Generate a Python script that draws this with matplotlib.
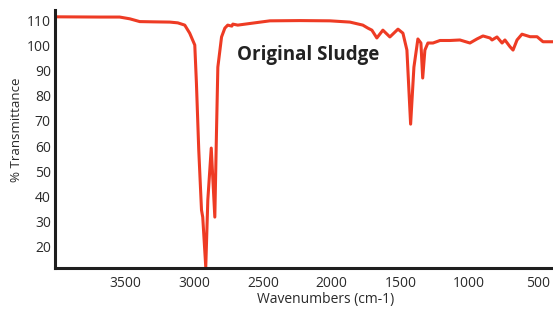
import matplotlib
matplotlib.use("Agg")
import matplotlib.pyplot as plt

plt.rcParams['font.family'] = ['Open Sans', 'DejaVu Sans']

wavenumber = [4017, 3690, 3544, 3470, 3398, 3300, 3179, 3121, 3070, 3034, 2997, 2985,
              2968, 2948, 2939, 2917, 2902, 2877, 2851, 2839, 2829, 2802, 2778, 2757,
              2727, 2720, 2684, 2574, 2450, 2232, 2013, 1867, 1773, 1736, 1707, 1671,
              1627, 1576, 1517, 1481, 1452, 1425, 1401, 1372, 1350, 1337, 1321, 1299,
              1262, 1211, 1138, 1066, 993, 942, 898, 847, 832, 796, 759, 738, 701, 679,
              650, 614, 555, 504, 461, 388]
transmittance = [111.3, 111.2, 111.2, 110.5, 109.4, 109.3, 109.2, 108.9, 108.0, 104.8,
                 100.1, 85.0, 58.4, 34.6, 31.8, 12.0, 38.6, 59.2, 31.8, 65.2, 91.3,
                 103.3, 106.8, 108.0, 107.6, 108.4, 108.0, 108.8, 109.7, 109.8, 109.7,
                 109.2, 108.0, 106.8, 106.0, 102.9, 106.0, 103.3, 106.4, 104.8, 98.1,
                 68.7, 91.3, 102.5, 100.9, 87.0, 98.1, 100.9, 100.9, 101.9, 101.9, 102.1,
                 100.9, 102.5, 103.7, 102.9, 102.1, 103.3, 100.9, 102.1, 99.4, 98.1,
                 102.1, 104.4, 103.4, 103.4, 101.4, 101.4]

xticks = [3500, 3000, 2500, 2000, 1500, 1000, 500]
yticks = [20, 30, 40, 50, 60, 70, 80, 90, 100, 110]

W, H = 553, 314
fig = plt.figure(figsize=(W / 100, H / 100), dpi=100)
ax = fig.add_axes([55 / W, 1 - 268 / H, 1 - 55 / W, (268 - 10) / H])

ax.plot(wavenumber, transmittance, color='#ee3b24', lw=2.2, solid_joinstyle='round')

ax.set_xlim(4015, 388)
ax.set_ylim(11.6, 114)
ax.set_xticks(xticks)
ax.set_yticks(yticks)
ax.tick_params(axis='x', length=0, labelsize=10, colors='#2a2a2a', pad=6)
ax.tick_params(axis='y', length=0, labelsize=10, colors='#2a2a2a', pad=3)
for s in ['top', 'right']:
    ax.spines[s].set_visible(False)
for s in ['left', 'bottom']:
    ax.spines[s].set_linewidth(2.2)
    ax.spines[s].set_color('#1e1e1e')

ax.set_xlabel('Wavenumbers (cm-1)', fontsize=10, color='#2a2a2a')
ax.xaxis.set_label_coords((326 - 55) / 498, -(300 - 268) / 258)
ax.xaxis.label.set_va('center')
ax.set_ylabel('% Transmittance', fontsize=9.6, color='#2a2a2a')
ax.yaxis.set_label_coords((17 - 55) / 498, (268 - 130) / 258)
ax.yaxis.label.set_va('center')

ax.text(2690, 96.2, 'Original Sludge', fontsize=13.5, fontweight='bold',
        color='#222222', ha='left', va='center')

fig.savefig('out.png', dpi=100)
